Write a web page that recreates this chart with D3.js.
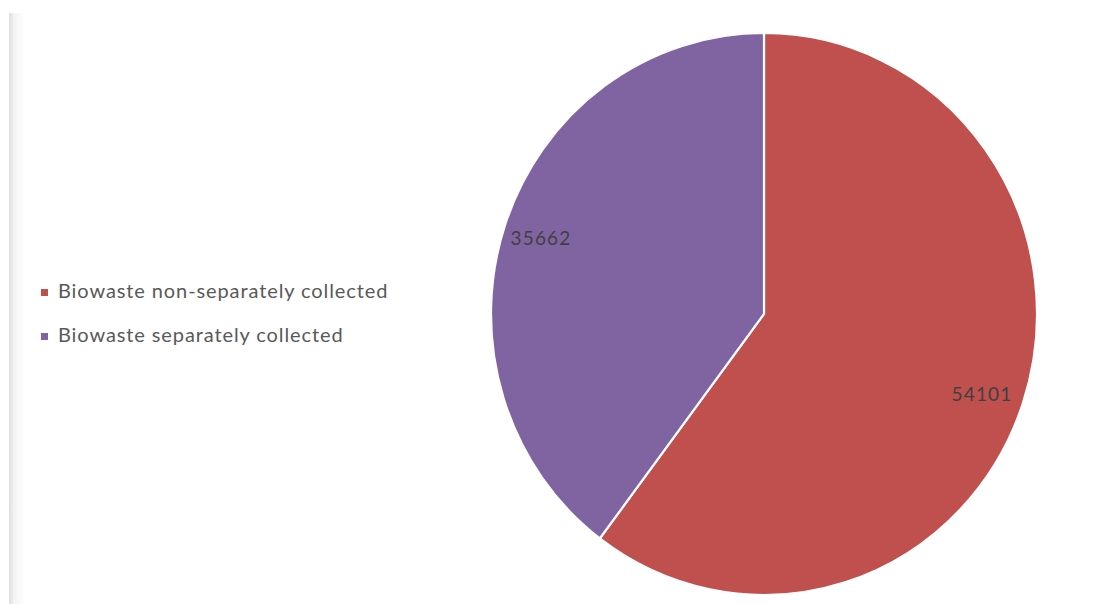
<!DOCTYPE html>
<html><head><meta charset="utf-8">
<script src="https://cdn.jsdelivr.net/npm/d3@7"></script>
<style>html,body{margin:0;padding:0;background:#fff;}svg{display:block;}</style>
</head><body>
<svg id="chart" width="1114" height="604"></svg>
<script>
const categories = ["Biowaste non-separately collected", "Biowaste separately collected"];
const values = [54101, 35662];
const colors = ["#C0504D", "#8064A2"];

const svg = d3.select("#chart");
// left frame edge
const grad = svg.append("defs").append("linearGradient").attr("id","edge").attr("x1","0").attr("x2","1");
grad.append("stop").attr("offset","0").attr("stop-color","#dedede");
grad.append("stop").attr("offset","0.3").attr("stop-color","#f2f2f2");
grad.append("stop").attr("offset","1").attr("stop-color","#ffffff");
svg.append("rect").attr("x",9).attr("y",13).attr("width",16).attr("height",591).attr("fill","url(#edge)");

const cx = 764, cy = 314, rx = 273, ry = 281;
const pie = d3.pie().sort(null).value(d => d)(values);
const arc = d3.arc().innerRadius(0).outerRadius(rx);
const g = svg.append("g").attr("transform", `translate(${cx},${cy}) scale(1,${ry/rx})`);
g.selectAll("path").data(pie).join("path")
  .attr("d", arc)
  .attr("fill", (d,i) => colors[i])
  .attr("stroke", "#fff").attr("stroke-width", 2.2)
  .attr("vector-effect","non-scaling-stroke");

// data labels
const lbl = svg.append("g").attr("transform", `translate(${cx},${cy})`);
const labelPos = [[218, 82], [-223, -74]];
lbl.selectAll("text").data(pie).join("text")
  .attr("x", (d,i) => labelPos[i][0]).attr("y", (d,i) => labelPos[i][1])
  .attr("text-anchor","middle").attr("dominant-baseline","middle")
  .attr("font-family","Lato, 'Open Sans', sans-serif").attr("font-size",19)
  .attr("letter-spacing",1.2)
  .attr("fill","#404040")
  .text(d => d.data);

// legend
const leg = svg.append("g").attr("transform","translate(41,293)");
const items = leg.selectAll("g").data(categories).join("g")
  .attr("transform",(d,i)=>`translate(0,${i*44})`);
items.append("rect").attr("x",0).attr("y",-4).attr("width",7).attr("height",7)
  .attr("fill",(d,i)=>colors[i]);
items.append("text").attr("x",17).attr("y",0).attr("dominant-baseline","middle")
  .attr("font-family","Lato, 'Open Sans', sans-serif").attr("font-size",20)
  .attr("letter-spacing",0.9)
  .attr("fill","#595959").text(d=>d);
</script>
</body></html>
